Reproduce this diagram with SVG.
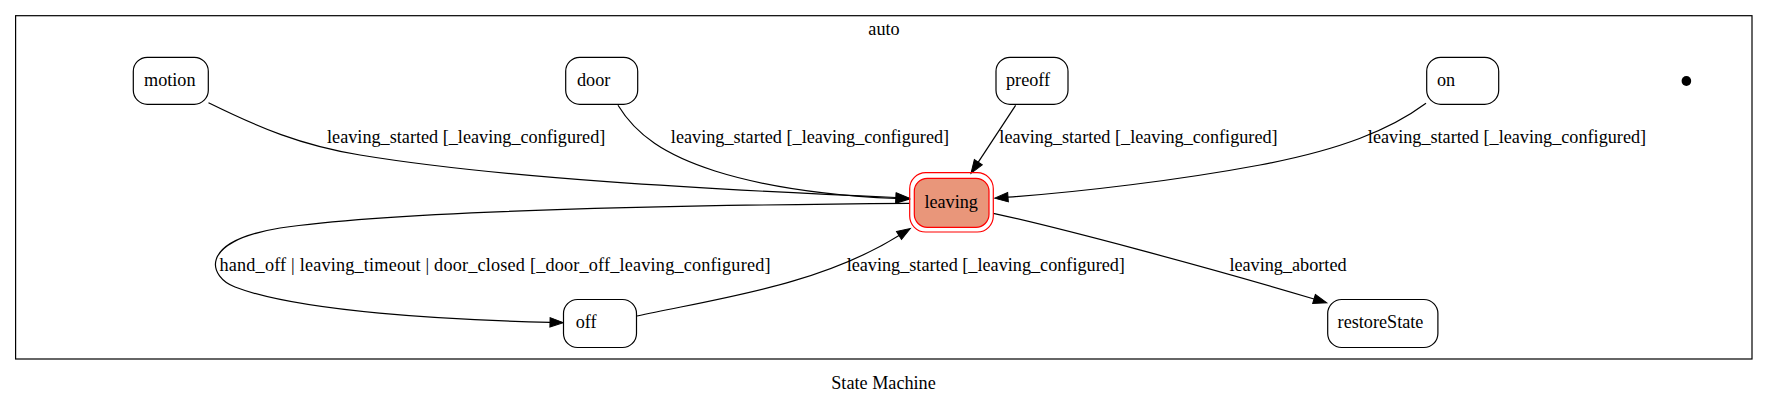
<svg xmlns="http://www.w3.org/2000/svg" width="1769" height="405" viewBox="0 0 1769 405">
<style>
text{font-family:"Liberation Serif","Times New Roman",serif;font-size:18.2px;fill:#000}
.node{fill:#fff;stroke:#000;stroke-width:1.2}
.edge{fill:none;stroke:#000;stroke-width:1.2}
.lbl{text-anchor:middle}
</style>
<defs>
<marker id="arr" markerUnits="userSpaceOnUse" markerWidth="16" markerHeight="12" refX="0" refY="0" viewBox="0 -6 16 12" orient="auto" overflow="visible">
<path d="M0,-4.7 L13.3,0 L0,4.7 Z" fill="#000" stroke="#000" stroke-width="1"/>
</marker>
</defs>
<rect width="1769" height="405" fill="#fff"/>
<g id="cluster_auto">
<rect x="15.6" y="15.7" width="1736.4" height="343.3" fill="none" stroke="#000" stroke-width="1.2"/>
<text x="884" y="35" class="lbl">auto</text>
</g>
<g id="edges">
<path class="edge" marker-end="url(#arr)" d="M208.5,102.7 C260,128 300,145 360,155 C500,178 700,189 896,197.5"/>
<text class="lbl" x="466.2" y="142.7">leaving_started [_leaving_configured]</text>
<path class="edge" marker-end="url(#arr)" d="M618,105.3 C636,135 665,155 715,171 C775,190 840,196 896,198.5"/>
<text class="lbl" x="810" y="142.7">leaving_started [_leaving_configured]</text>
<path class="edge" marker-end="url(#arr)" d="M1015.6,105.3 L978.3,162.2"/>
<text class="lbl" x="1138.5" y="142.7">leaving_started [_leaving_configured]</text>
<path class="edge" marker-end="url(#arr)" d="M1426,103.3 C1390,130 1340,150 1260,165 C1180,180 1080,192 1008,197.2"/>
<text class="lbl" x="1507" y="142.7">leaving_started [_leaving_configured]</text>
<path class="edge" marker-end="url(#arr)" d="M909.7,203.3 C700,205 400,210 280,228 C195,242 210,278 235,287 C300,312 450,320 550,322.3"/>
<text x="219.5" y="271" textLength="551" lengthAdjust="spacing">hand_off | leaving_timeout | door_closed [_door_off_leaving_configured]</text>
<path class="edge" marker-end="url(#arr)" d="M637,316 C720,298 820,285 899,235.5"/>
<text class="lbl" x="985.8" y="271">leaving_started [_leaving_configured]</text>
<path class="edge" marker-end="url(#arr)" d="M993.3,213.3 C1060,228 1200,265 1314,299"/>
<text class="lbl" x="1288" y="271">leaving_aborted</text>
</g>
<g id="node_motion">
<rect class="node" x="133.3" y="57.3" width="75" height="47" rx="14"/>
<text x="144" y="86">motion</text>
</g>
<g id="node_door">
<rect class="node" x="565.7" y="57.3" width="72" height="47" rx="14"/>
<text x="577" y="86">door</text>
</g>
<g id="node_preoff">
<rect class="node" x="996" y="57.3" width="72" height="47" rx="14"/>
<text x="1006" y="86">preoff</text>
</g>
<g id="node_on">
<rect class="node" x="1426.7" y="57.3" width="72" height="47" rx="14"/>
<text x="1437" y="86">on</text>
</g>
<g id="node_initial">
<ellipse cx="1686.4" cy="81" rx="4.8" ry="5" fill="#000"/>
</g>
<g id="node_leaving">
<rect x="909.7" y="172.7" width="83.6" height="59.3" rx="16" fill="none" stroke="#f00" stroke-width="1.2"/>
<rect x="914.3" y="178.3" width="74.7" height="49" rx="13" fill="#e9967a" stroke="#f00" stroke-width="1.2"/>
<text x="951.2" y="208.3" class="lbl">leaving</text>
</g>
<g id="node_off">
<rect class="node" x="563.5" y="299.5" width="73" height="48" rx="14"/>
<text x="575.7" y="328.3">off</text>
</g>
<g id="node_restoreState">
<rect class="node" x="1327.7" y="299.5" width="110.2" height="48" rx="14"/>
<text x="1337.6" y="328">restoreState</text>
</g>
<text x="883.5" y="389.3" class="lbl">State Machine</text>
</svg>
